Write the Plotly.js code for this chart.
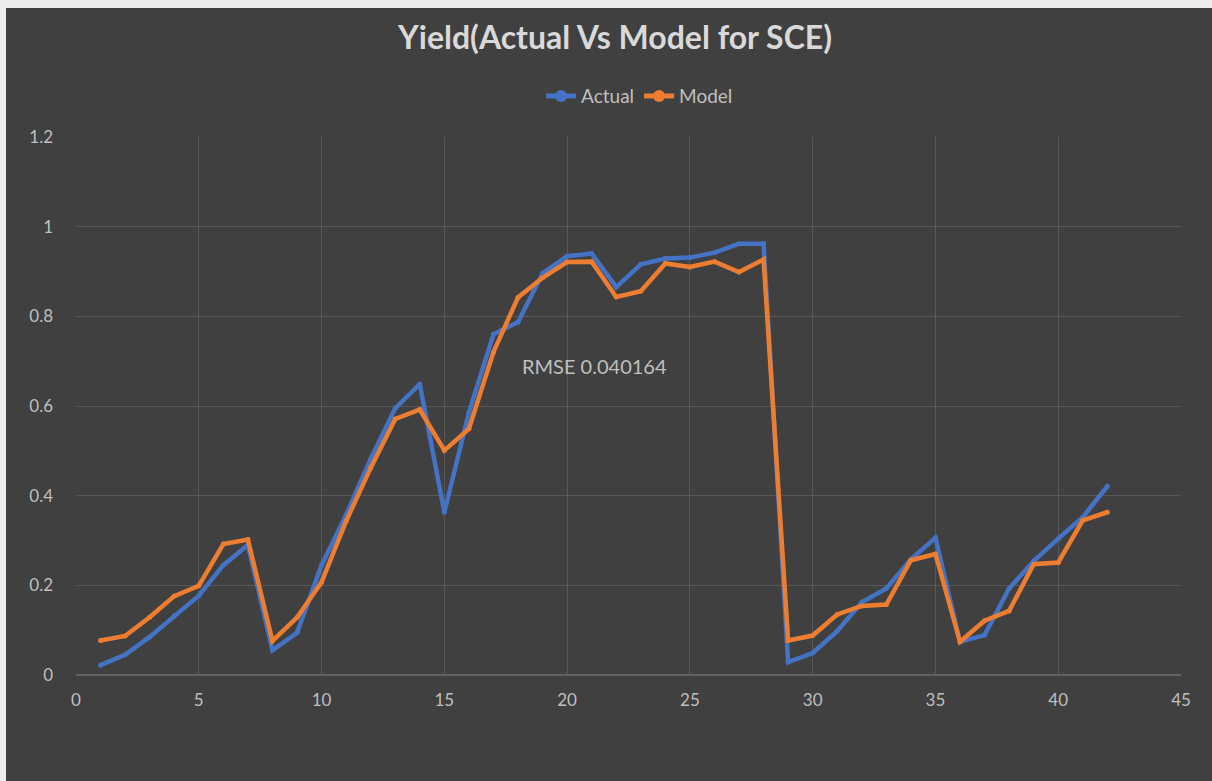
<!DOCTYPE html>
<html>
<head>
<meta charset="utf-8">
<script src="https://cdn.plot.ly/plotly-3.0.1.min.js"></script>
<style>
html,body{margin:0;padding:0;background:#ececec;overflow:hidden;}
#chart{position:absolute;left:6px;top:8px;width:1206px;height:773px;}
</style>
</head>
<body>
<div id="chart"></div>
<script>
const xValues = [1,2,3,4,5,6,7,8,9,10,11,12,13,14,15,16,17,18,19,20,21,22,23,24,25,26,27,28,29,30,31,32,33,34,35,36,37,38,39,40,41,42];
const actual = [0.022,0.045,0.085,0.132,0.177,0.245,0.29,0.055,0.094,0.245,0.357,0.482,0.595,0.649,0.363,0.585,0.76,0.787,0.896,0.934,0.94,0.865,0.916,0.929,0.931,0.942,0.962,0.962,0.029,0.049,0.098,0.162,0.193,0.258,0.306,0.074,0.089,0.193,0.254,0.304,0.352,0.421];
const model = [0.077,0.087,0.129,0.176,0.199,0.292,0.302,0.076,0.128,0.207,0.343,0.462,0.571,0.592,0.501,0.549,0.72,0.842,0.886,0.921,0.922,0.843,0.856,0.918,0.91,0.922,0.899,0.927,0.077,0.088,0.135,0.154,0.157,0.256,0.27,0.074,0.121,0.143,0.247,0.251,0.345,0.363];
const seriesNames = ["Actual","Model"];
const titleText = "Yield(Actual Vs Model for SCE)";
const rmseText = "RMSE 0.040164";

const fontFam = "Lato, 'Open Sans', sans-serif";
const traces = [
  {x:xValues, y:actual, name:seriesNames[0], type:"scatter", mode:"lines+markers",
   line:{color:"#4472C4", width:4.5}, marker:{color:"#4472C4", size:5}},
  {x:xValues, y:model, name:seriesNames[1], type:"scatter", mode:"lines+markers",
   line:{color:"#ED7D31", width:4.5}, marker:{color:"#ED7D31", size:5}}
];
const layout = {
  width:1206, height:773,
  paper_bgcolor:"#404040", plot_bgcolor:"#404040",
  margin:{l:70, r:31, t:129, b:106},
  font:{family:fontFam, color:"#bfbfbf", size:16},
  title:{text:"<b>"+titleText+"</b>", x:0.505, xanchor:"center", y:0.962, yref:"container", yanchor:"middle",
         font:{family:fontFam, size:32, color:"#d9d9d9"}},
  showlegend:true,
  legend:{orientation:"h", x:0.51, xanchor:"center", y:1.076, yanchor:"middle", itemsizing:"constant",
          font:{family:fontFam, size:19, color:"#bfbfbf"}, bgcolor:"rgba(0,0,0,0)", itemwidth:30},
  xaxis:{range:[0,45], dtick:5, tick0:0, showgrid:true, gridcolor:"#575757", gridwidth:1,
         zeroline:false, showline:false, ticks:"", ticklabelstandoff:13,
         tickfont:{family:fontFam, size:17, color:"#bfbfbf"}},
  yaxis:{range:[0,1.2], dtick:0.2, tick0:0, showgrid:true, gridcolor:"#575757", gridwidth:1,
         zeroline:true, zerolinecolor:"#626262", zerolinewidth:2.5, showline:false, ticks:"",
         ticklabelstandoff:22, tickformat:"~g",
         tickfont:{family:fontFam, size:17, color:"#bfbfbf"}},
  annotations:[{x:21.1, y:0.689, xref:"x", yref:"y", text:rmseText, showarrow:false,
                font:{family:fontFam, size:20, color:"#bfbfbf"}}],
  hovermode:false
};
Plotly.newPlot("chart", traces, layout, {displayModeBar:false, staticPlot:true});
</script>
</body>
</html>
